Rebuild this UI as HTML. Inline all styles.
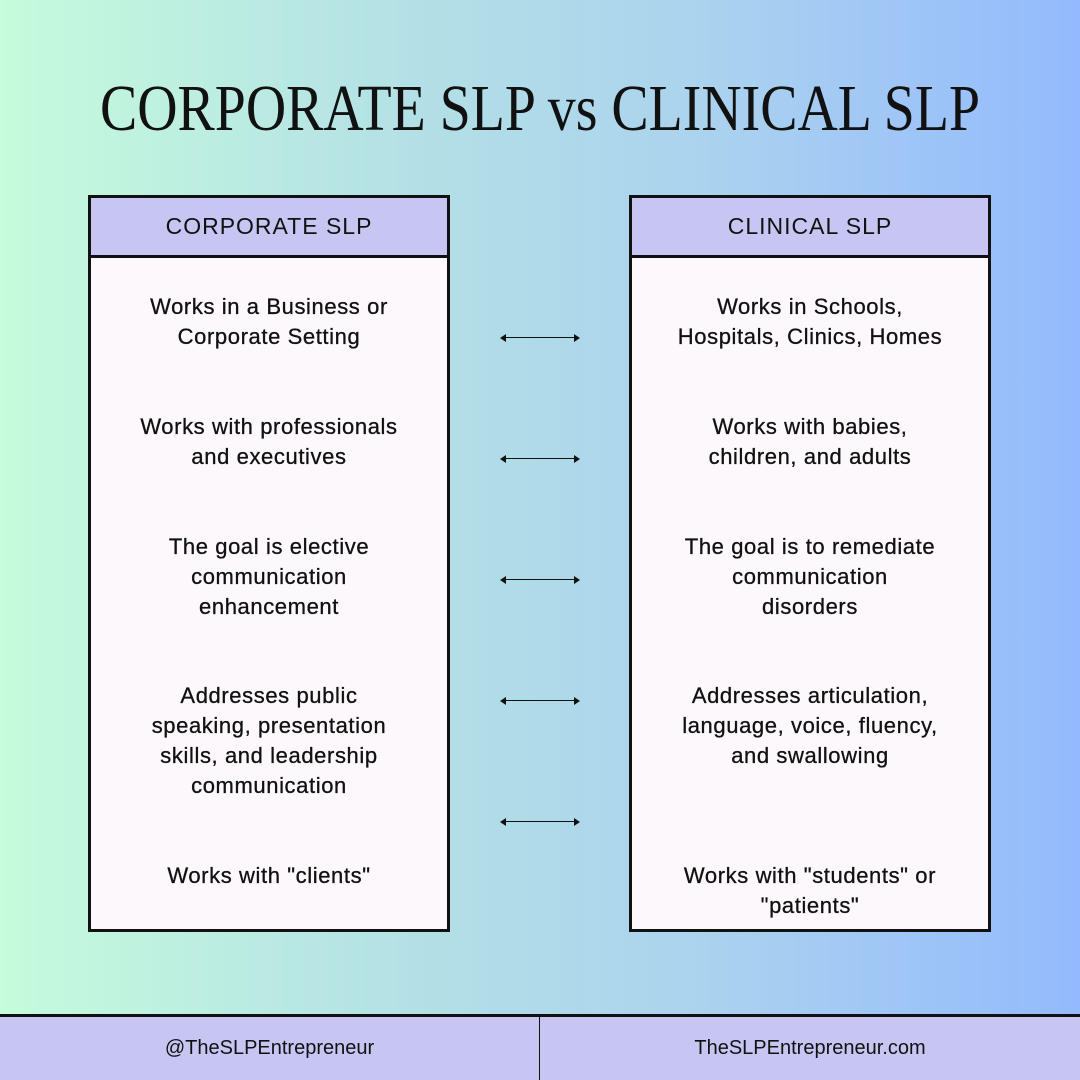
<!DOCTYPE html>
<html><head><meta charset="utf-8"><style>
html,body{margin:0;width:1080px;height:1080px;overflow:hidden}
body{background:linear-gradient(90deg,#c6fbdc 0%,#b2dfe6 40%,#abd3ee 65%,#94bafd 100%);font-family:"Liberation Sans",sans-serif;position:relative}
.box{position:absolute;top:195px;width:356px;height:731px;border:3px solid #111;background:#fdf8fb}
.hd{height:57px;border-bottom:3px solid #111;background:#c7c6f3;text-align:center;line-height:57px;font-size:23px;letter-spacing:1px;color:#111}
.t{position:absolute;width:100%;text-align:center;font-size:22px;letter-spacing:0.6px;line-height:30px;color:#111;-webkit-text-stroke:0.3px #111}
.ar{position:absolute;left:502px;width:76px;height:0;border-top:1.5px solid #111}
.ar:before,.ar:after{content:"";position:absolute;top:-4.5px;border:4px solid transparent}
.ar:before{left:-2px;border-right:6px solid #111;border-left:0}
.ar:after{right:-2px;border-left:6px solid #111;border-right:0}
.ft{position:absolute;top:1014px;left:0;width:1080px;height:63px;border-top:3px solid #111;background:#c7c6f3}
.ft div{position:absolute;top:0;width:540px;height:63px;line-height:62px;text-align:center;font-size:20px;color:#111}
</style></head><body>
<svg width="1080" height="180" style="position:absolute;top:0;left:0"><text x="540" y="130" text-anchor="middle" font-family="Liberation Serif,serif" font-size="66" textLength="880" lengthAdjust="spacingAndGlyphs" fill="#111">CORPORATE SLP vs CLINICAL SLP</text></svg>
<div class="box" style="left:88px"><div class="hd">CORPORATE SLP</div>
<div class="t" style="top:94px">Works in a Business or<br>Corporate Setting</div>
<div class="t" style="top:214px">Works with professionals<br>and executives</div>
<div class="t" style="top:334px">The goal is elective<br>communication<br>enhancement</div>
<div class="t" style="top:483px">Addresses public<br>speaking, presentation<br>skills, and leadership<br>communication</div>
<div class="t" style="top:663px">Works with "clients"</div>
</div>
<div class="box" style="left:629px"><div class="hd">CLINICAL SLP</div>
<div class="t" style="top:94px">Works in Schools,<br>Hospitals, Clinics, Homes</div>
<div class="t" style="top:214px">Works with babies,<br>children, and adults</div>
<div class="t" style="top:334px">The goal is to remediate<br>communication<br>disorders</div>
<div class="t" style="top:483px">Addresses articulation,<br>language, voice, fluency,<br>and swallowing</div>
<div class="t" style="top:663px">Works with "students" or<br>"patients"</div>
</div>
<div class="ar" style="top:337px"></div>
<div class="ar" style="top:458px"></div>
<div class="ar" style="top:579px"></div>
<div class="ar" style="top:700px"></div>
<div class="ar" style="top:821px"></div>
<div class="ft"><div style="left:0;border-right:1.5px solid #111;width:539px">@TheSLPEntrepreneur</div><div style="left:540px">TheSLPEntrepreneur.com</div></div>
</body></html>
